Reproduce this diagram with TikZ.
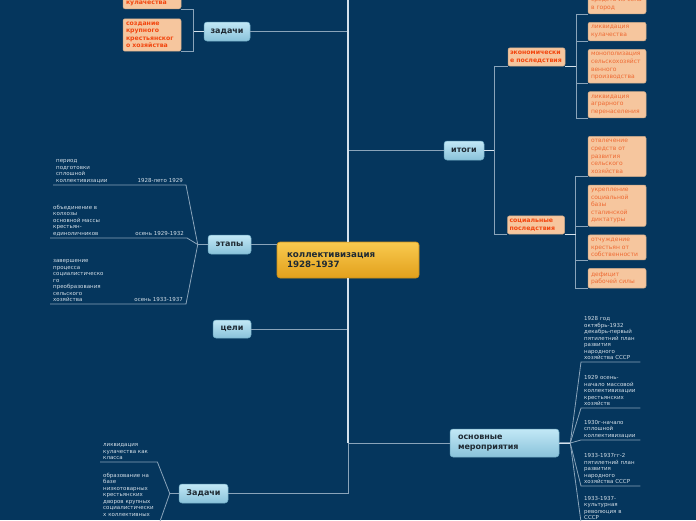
\documentclass[tikz,border=0pt]{standalone}
\usepackage{fontspec}
\setmainfont{DejaVu Sans}
\usetikzlibrary{positioning}
\definecolor{mapBg}{HTML}{05365D}
\definecolor{spineLine}{HTML}{D5E2EC}
\definecolor{linkLine}{HTML}{8AA4BA}
\definecolor{rootTop}{HTML}{F9CA4F}
\definecolor{rootBottom}{HTML}{E2A01C}
\definecolor{rootBorder}{HTML}{C98E1A}
\definecolor{mainTop}{HTML}{C2E8F6}
\definecolor{mainBottom}{HTML}{89C2DA}
\definecolor{mainBorder}{HTML}{6DA8C2}
\definecolor{noteFill}{HTML}{F6C69E}
\definecolor{noteBorder}{HTML}{C9A889}
\definecolor{noteTitle}{HTML}{F2460F}
\definecolor{noteText}{HTML}{EE6A33}
\definecolor{plainText}{HTML}{D3DEE7}
\definecolor{darkText}{HTML}{1F2A33}

\begin{document}
\begin{tikzpicture}[
    x=1pt, y=-1pt,
    root/.style={
        rectangle, draw=rootBorder,
        top color=rootTop, bottom color=rootBottom,
        minimum width=142pt, minimum height=36pt,
        text width=122pt, inner xsep=10pt, align=left,
        rounded corners=3pt, line width=0.6pt,
        font=\bfseries\fontsize{8.7}{10.7}\selectfont, text=darkText
    },
    branch/.style={
        rectangle, draw=mainBorder,
        top color=mainTop, bottom color=mainBottom,
        minimum height=19pt, inner xsep=4pt,
        rounded corners=3pt, line width=0.5pt,
        font=\bfseries\fontsize{8}{9.5}\selectfont, text=darkText
    },
    note/.style={
        rectangle, draw=noteBorder, fill=noteFill,
        text width=52pt, inner xsep=3pt, inner ysep=3.2pt, align=left,
        rounded corners=2pt, line width=0.5pt,
        font=\fontsize{6}{7.6}\selectfont, text=noteText
    },
    notehead/.style={note, text width=53pt, inner xsep=2pt,
        font=\bfseries\fontsize{6.2}{7.5}\selectfont, text=noteTitle},
    plain/.style={inner xsep=3pt, inner ysep=2pt, align=left,
        font=\fontsize{5.5}{6.5}\selectfont, text=plainText},
    link/.style={draw=linkLine, line width=0.8pt},
    stub/.style={draw=spineLine, line width=0.8pt},
    spine/.style={draw=spineLine, line width=1.6pt}
]
  \useasboundingbox (0,0) rectangle (696,520);
  \clip (0,0) rectangle (696,520);
  \fill[mapBg] (0,0) rectangle (696,520);

  % Central topic
  \node[root] (root) at (348,260) {коллективизация\\1928–1937};
  \coordinate (topEnd) at (348,0);

  % Main branches
  \node[branch, minimum width=46pt] (zadachi) at (227,31.5) {задачи};
  \node[branch, minimum width=43pt] (etapy) at (229.5,244.5) {этапы};
  \node[branch, minimum width=38pt, minimum height=18pt] (celi) at (232,329) {цели};
  \node[branch, minimum width=49pt] (zadachiB) at (203.5,493.5) {Задачи};
  \node[branch, minimum width=40pt] (itogi) at (464,150.5) {итоги};
  \node[branch, minimum height=28pt, text width=93pt, inner xsep=8pt, align=left] (meropr) at (504.5,443) {основные\\мероприятия};

  % Upper tasks
  \node[notehead, text width=52pt, inner xsep=3pt, anchor=south] (t1) at (152,9) {кулачества};
  \node[notehead, text width=52pt, inner xsep=3pt] (t2) at (152,35) {создание\\крупного\\крестьянског\\о хозяйства};

  % Results: economic and social consequences
  \node[notehead] (econ) at (536.5,57) {экономически\\е последствия};
  \node[notehead] (soc) at (536,225) {социальные\\последствия};

  \node[note, anchor=north] (e2) at (617,22) {ликвидация\\кулачества};
  \node[note, above=8pt of e2] (e1) {средств из села\\в город};
  \node[note, below=8pt of e2] (e3) {монополизация\\сельскохозяйст\\венного\\производства};
  \node[note, below=8pt of e3] (e4) {ликвидация\\аграрного\\перенаселения};

  \node[note, anchor=north] (s1) at (617,136) {отвлечение\\средств от\\развития\\сельского\\хозяйства};
  \node[note, below=8pt of s1] (s2) {укрепление\\социальной\\базы\\сталинской\\диктатуры};
  \node[note, below=8pt of s2] (s3) {отчуждение\\крестьян от\\собственности};
  \node[note, below=8pt of s3] (s4) {дефицит\\рабочей силы};

  % Stages
  \node[plain, anchor=south west] (n1) at (53,185) {период\\подготовки\\сплошной\\коллективизации};
  \node[plain, anchor=south east] (d1) at (186,185) {1928-лето 1929};
  \node[plain, anchor=south west] (n2) at (50,238) {объединение в\\колхозы\\основной массы\\крестьян-\\единоличников};
  \node[plain, anchor=south east] (d2) at (187,238) {осень 1929-1932};
  \node[plain, anchor=south west] (n3) at (50,304) {завершение\\процесса\\социалистическо\\го\\преобразования\\сельского\\хозяйства};
  \node[plain, anchor=south east] (d3) at (186,304) {осень 1933-1937};

  % Lower tasks
  \node[plain, text width=51pt, anchor=south west] (z1) at (100,462) {ликвидация\\кулачества как\\класса};
  \node[plain, text width=51pt, anchor=north west] (z2) at (100,471) {образование на\\базе\\низкотоварных\\крестьянских\\дворов крупных\\социалистически\\х коллективных};

  % Main measures
  \node[plain, text width=53pt, anchor=south west] (m1) at (581,362) {1928 год\\октябрь-1932\\декабрь-первый\\пятилетний план\\развития\\народного\\хозяйства СССР};
  \node[plain, text width=53pt, anchor=south west] (m2) at (581,408) {1929 осень-\\начало массовой\\коллективизации\\крестьянских\\хозяйств};
  \node[plain, text width=53pt, anchor=south west] (m3) at (581,440) {1930г-начало\\сплошной\\коллективизации};
  \node[plain, text width=53pt, anchor=south west] (m4) at (581,486) {1933-1937гг-2\\пятилетний план\\развития\\народного\\хозяйства СССР};
  \node[plain, text width=53pt, anchor=north west] (m5) at (581,494) {1933-1937-\\культурная\\революция в\\СССР};

  % Root to branches
  \draw[link] (root.north) |- (zadachi.east);
  \draw[link] (root.north) |- (itogi.west);
  \draw[link] (etapy.east) -- (etapy.east -| root.west);
  \draw[link] (root.south) |- (celi.east);
  \draw[link] (root.south) |- (zadachiB.east);
  \draw[link] (root.south) |- (meropr.west);
  \draw[spine] (root.north) -- (topEnd);
  \draw[spine] (root.south) -- (root.south |- meropr.west);

  % Upper tasks links
  \draw[link] (zadachi.west) -- ++(-10,0) |- (t1.south east);
  \draw[link] (zadachi.west) -- ++(-10,0) |- (t2.south east);
  \draw[stub] (zadachi.west) -- ++(-10,0);

  % Results links
  \draw[link] (itogi.east) -- ++(10,0) |- (econ.south west);
  \draw[link] (itogi.east) -- ++(10,0) |- (soc.south west);
  \draw[stub] (itogi.east) -- ++(10,0);
  \foreach \child in {e1,e2,e3,e4}
    \draw[link] (econ.south east) -- ++(11,0) |- (\child.south west);
  \draw[stub] (econ.south east) -- ++(11,0);
  \foreach \child in {s1,s2,s3,s4}
    \draw[link] (soc.south east) -- ++(11,0) |- (\child.south west);
  \draw[stub] (soc.south east) -- ++(11,0);

  % Stages links
  \draw[link] (etapy.west) -- ++(-10,0) -- (d1.south east) -- (n1.south west);
  \draw[link] (etapy.west) -- ++(-10,0) -- (d2.south east) -- (n2.south west);
  \draw[link] (etapy.west) -- ++(-10,0) -- (d3.south east) -- (n3.south west);

  % Lower tasks links
  \draw[link] (zadachiB.west) -- ++(-9,0) -- (z1.south east) -- (z1.south west);
  \draw[link] (zadachiB.west) -- ++(-9,0) -- ([yshift=-10pt]z2.south east) -- ([yshift=-10pt]z2.south west);

  % Main measures links
  \foreach \child in {m1,m2,m3,m4,m5}
    \draw[link] (meropr.east) -- ++(11,0) -- (\child.south west) -- (\child.south east);
  \draw[stub] (meropr.east) -- ++(11,0);
\end{tikzpicture}
\end{document}
